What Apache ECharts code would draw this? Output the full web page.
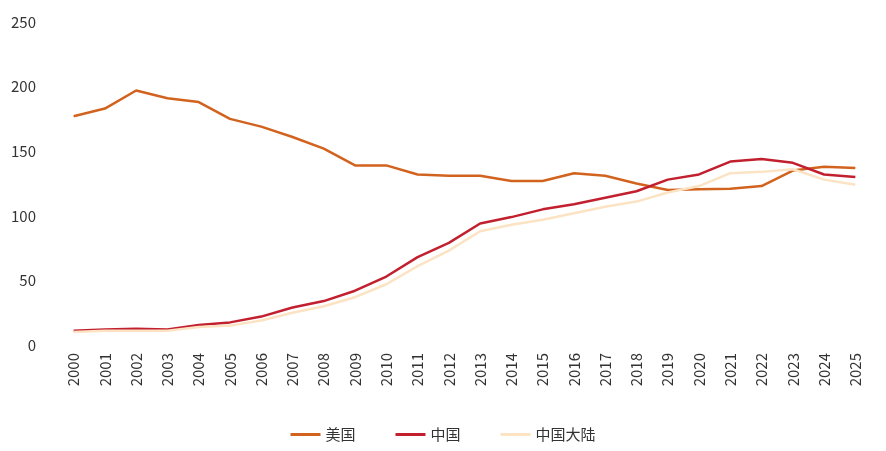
<!DOCTYPE html>
<html>
<head>
<meta charset="utf-8">
<script src="https://cdn.jsdelivr.net/npm/echarts@6/dist/echarts.min.js"></script>
<style>html,body{margin:0;background:#fff}#chart{width:886px;height:451px}</style>
</head>
<body>
<div id="chart"></div>
<script>
// 年份
const years = ['2000','2001','2002','2003','2004','2005','2006','2007','2008','2009','2010','2011','2012',
  '2013','2014','2015','2016','2017','2018','2019','2020','2021','2022','2023','2024','2025'];
const usa = [177,183,197,191,188,175,169,161,152,139,139,132,131,131,127,127,133,131,125,120,120.5,121,123,135,138,137];
const china = [11,12,12.5,12,15.5,17.5,22,29,34,42,53,68,79,94,99,105,109,114,119,128,132,142,144,141,132,130];
const mainland = [10,11,11,11,14,15,19,25,30,37,47,61,73,88,93,97,102,107,111,118,123,133,134,136,128,124];

const font = '"Noto Sans CJK SC", "Noto Sans", sans-serif';

const chart = echarts.init(document.getElementById('chart'));
chart.setOption({
  textStyle: { fontFamily: font },
  color: ['#d2631f', '#c2202f', '#fbe3c4'],
  grid: { left: 58, right: 15, top: 22, bottom: 106 },
  legend: {
    bottom: 4, left: 'center', itemWidth: 30, itemHeight: 3, itemGap: 40,
    icon: 'rect',
    textStyle: { fontSize: 15, color: '#333' },
    data: ['美国', '中国', '中国大陆']
  },
  xAxis: {
    type: 'category', data: years, boundaryGap: true,
    axisLine: { show: false }, axisTick: { show: false },
    axisLabel: { rotate: 90, fontSize: 15, color: '#333' }
  },
  yAxis: {
    type: 'value', min: 0, max: 250, interval: 50,
    splitLine: { show: false },
    axisLabel: { fontSize: 15, color: '#333', margin: 22 }
  },
  series: [
    { name: '美国', type: 'line', data: usa, symbol: 'none', lineStyle: { width: 2.5 } },
    { name: '中国', type: 'line', data: china, symbol: 'none', lineStyle: { width: 2.5 } },
    { name: '中国大陆', type: 'line', data: mainland, symbol: 'none', lineStyle: { width: 2.5 } }
  ]
});
</script>
</body>
</html>
